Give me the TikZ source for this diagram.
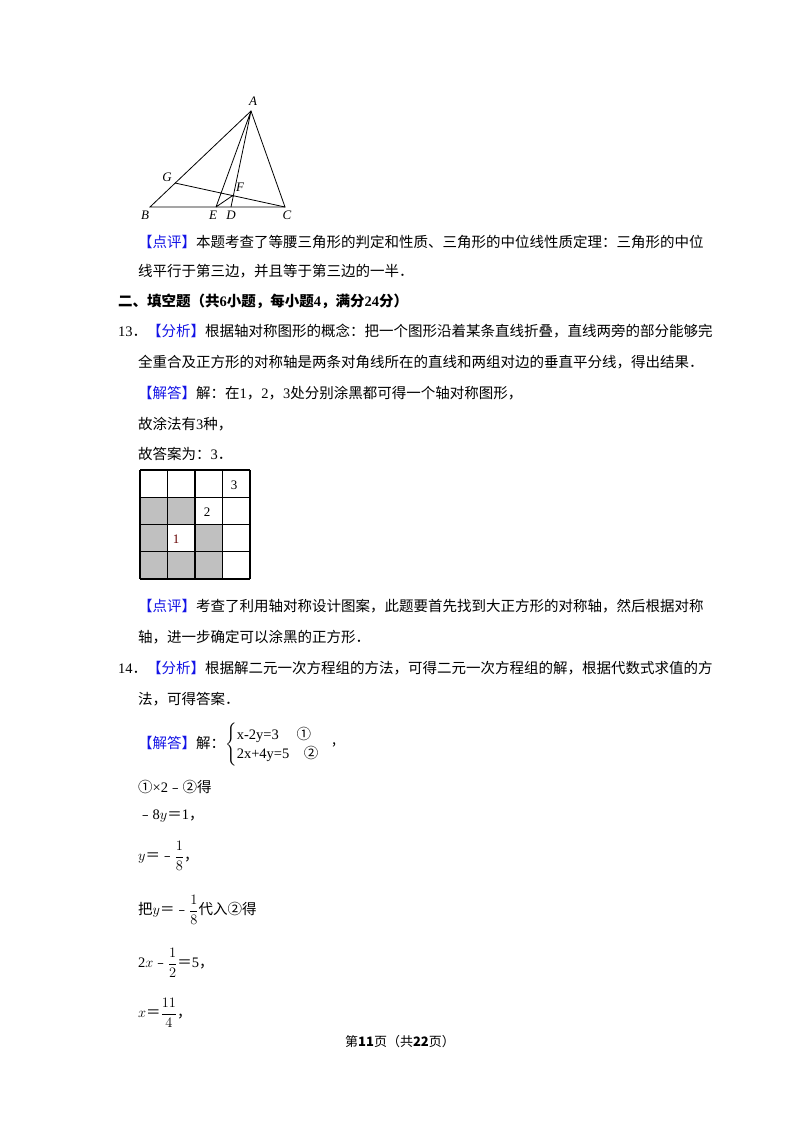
\documentclass[tikz,border=0pt]{standalone}
\usepackage{amsmath}
\usepackage{fontspec}
\setmainfont{Noto Sans CJK SC}
\newfontfamily\tm{Liberation Serif}
\newfontfamily\lab{Liberation Serif}[ItalicFont={Liberation Serif Italic}]
\definecolor{bl}{RGB}{20,20,230}
\definecolor{cellgray}{RGB}{192,192,192}
\begin{document}
\begin{tikzpicture}[x=1pt,y=-1pt,
  txt/.style={anchor=west,inner sep=0pt,font=\fontsize{14.5}{16}\selectfont},
  lbl/.style={inner sep=0pt,font=\lab\itshape\fontsize{13}{14}\selectfont},
  seg/.style={line width=0.8pt}]
\useasboundingbox (0,0) rectangle (800,1132);
\fill[white] (0,0) rectangle (800,1132);
% triangle
\coordinate (A) at (251,111);
\coordinate (B) at (150,207);
\coordinate (C) at (285,207);
\coordinate (E) at (216,207);
\coordinate (D) at (231,207);
\coordinate (G) at (175,183);
\coordinate (F) at (233.5,195);
\draw[seg] (A)--(B)--(C)--cycle;
\draw[seg] (A)--(E) (A)--(D) (G)--(C) (E)--(F);
\node[lbl] (lA) at (253,101) {A};
\node[lbl] (lG) at (167,177) {G};
\node[lbl] (lF) at (240,187) {F};
\node[lbl] (lB) at (145,215) {B};
\node[lbl] (lE) at (213,215) {E};
\node[lbl] (lD) at (231,215) {D};
\node[lbl] (lC) at (287,215) {C};
% text
\node[txt] (t1) at (138,242) {{\color{bl}【点评】}本题考查了等腰三角形的判定和性质、三角形的中位线性质定理：三角形的中位};
\node[txt] (t2) at (138,271) {线平行于第三边，并且等于第三边的一半．};
\node[txt,font=\bfseries\fontsize{14.5}{16}\selectfont] (t3) at (118,301) {二、填空题（共{\tm\bfseries 6}小题，每小题{\tm\bfseries 4}，满分{\tm\bfseries 24}分）};
\node[txt] (t4) at (118,331) {{\tm 13}．{\color{bl}【分析】}根据轴对称图形的概念：把一个图形沿着某条直线折叠，直线两旁的部分能够完};
\node[txt] (t5) at (138,362) {全重合及正方形的对称轴是两条对角线所在的直线和两组对边的垂直平分线，得出结果．};
\node[txt] (t6) at (138,393) {{\color{bl}【解答】}解：在{\tm 1}，{\tm 2}，{\tm 3}处分别涂黑都可得一个轴对称图形，};
\node[txt] (t7) at (138,424) {故涂法有{\tm 3}种，};
\node[txt] (t8) at (138,454) {故答案为：{\tm 3}．};
% grid
\foreach \c/\r in {0/1,1/1,0/2,2/2,0/3,1/3,2/3}
  \fill[cellgray] (140+\c*27.5,470+\r*27.25) rectangle ++(27.5,27.25);
\foreach \i in {0,...,4} {
  \draw[line width=1.2pt] (140+\i*27.5,470) -- (140+\i*27.5,579);
  \draw[line width=1.2pt] (140,470+\i*27.25) -- (250,470+\i*27.25);
}
\node[inner sep=0pt,font=\tm\fontsize{13}{14}\selectfont] (n3) at (234,485) {3};
\node[inner sep=0pt,font=\tm\fontsize{13}{14}\selectfont] (n2) at (207,512) {2};
\node[inner sep=0pt,font=\tm\fontsize{13}{14}\selectfont,color=red!40!black] (n1) at (176,539) {1};
\node[txt] (t9) at (138,606) {{\color{bl}【点评】}考查了利用轴对称设计图案，此题要首先找到大正方形的对称轴，然后根据对称};
\node[txt] (t10) at (138,637) {轴，进一步确定可以涂黑的正方形．};
\node[txt] (t11) at (118,668) {{\tm 14}．{\color{bl}【分析】}根据解二元一次方程组的方法，可得二元一次方程组的解，根据代数式求值的方};
\node[txt] (t12) at (138,699) {法，可得答案．};
\node[txt] (t13) at (138,745) {{\color{bl}【解答】}解：$\begin{cases}\text{\tm x-2y=3}\quad\ \text{①}\\ \text{\tm 2x+4y=5}\quad \text{②}\end{cases}$\hspace{-2pt}\raisebox{4pt}{,}};
\node[txt] (t14) at (138,787) {①{\tm ×2}﹣②得};
\node[txt] (t15) at (138,816) {﹣{\tm 8}$y$＝{\tm 1}，};
\node[txt] (t16) at (138,856) {$y$＝﹣$\dfrac{1}{8}$，};
\node[txt] (t17) at (138,910) {把$y$＝﹣$\dfrac{1}{8}$代入②得};
\node[txt] (t18) at (138,963) {{\tm 2}$x$﹣$\dfrac{1}{2}$＝{\tm 5}，};
\node[txt] (t19) at (138,1013) {$x$＝$\dfrac{11}{4}$，};
\node[inner sep=0pt,font=\fontsize{13}{14}\selectfont] (foot) at (400,1042) {第{\bfseries 11}页（共{\bfseries 22}页）};
\end{tikzpicture}
\end{document}
